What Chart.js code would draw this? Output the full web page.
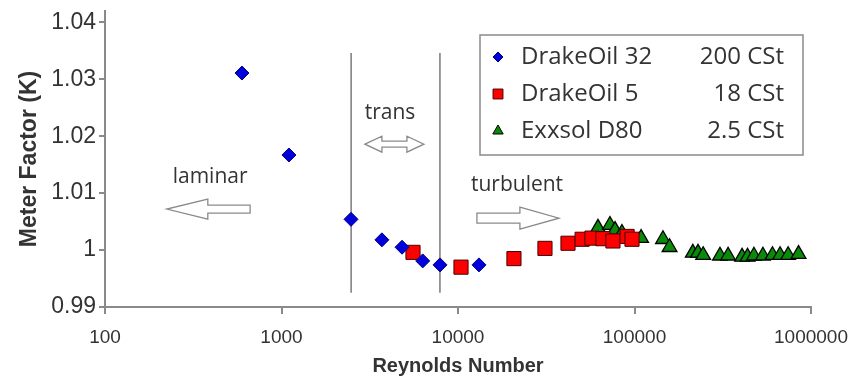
<!DOCTYPE html>
<html>
<head>
<meta charset="utf-8">
<script src="https://cdn.jsdelivr.net/npm/chart.js@4.4.0/dist/chart.umd.min.js"></script>
<style>
  html, body { margin: 0; padding: 0; background: #fff; }
</style>
</head>
<body>
<canvas id="chart" width="855" height="379"></canvas>
<script>
// ─── DATA ────────────────────────────────────────────────
const seriesNames = ['DrakeOil 32', 'DrakeOil 5', 'Exxsol D80'];
const viscosities = ['200 CSt', '18 CSt', '2.5 CSt'];

const reOil32 = [597, 1102, 2477, 3706, 4820, 6310, 7910, 13150];
const kOil32  = [1.0311, 1.0167, 1.0054, 1.0018, 1.0005, 0.9981, 0.9974, 0.9974];

const reOil5 = [5560, 10400, 20750, 31100, 42000, 50500, 57400, 66300, 75500, 90800, 96800];
const kOil5  = [0.9996, 0.9970, 0.9985, 1.0003, 1.0012, 1.0019, 1.0021, 1.0020, 1.0016, 1.0024, 1.0019];

const reD80 = [62100, 72600, 77600, 84900, 109000, 145000, 158000, 214000, 229000, 245000,
               305000, 339000, 407000, 437000, 475000, 534000, 605000, 668000, 742000, 850000];
const kD80  = [1.0039, 1.0044, 1.0035, 1.0030, 1.0021, 1.0019, 1.0005, 0.9995, 0.9995, 0.9991,
               0.9990, 0.9990, 0.9988, 0.9988, 0.9990, 0.9990, 0.9991, 0.9991, 0.9991, 0.9993];

const xTicks = [100, 1000, 10000, 100000, 1000000];
const yTicks = [0.99, 1.00, 1.01, 1.02, 1.03, 1.04];

// laminar / transition / turbulent boundaries
const regimeBounds = [2480, 7900];
const regimeSpan   = [0.9925, 1.0346];
const regimeLabels = ['laminar', 'trans', 'turbulent'];

// ─── STYLES ──────────────────────────────────────────────
const AXIS_GREY = '#8a8a8a';
const TEXT = '#333333';
const ARIAL = "'Liberation Sans', Arial, sans-serif";
const CALIBRI = "'Open Sans', 'Noto Sans', sans-serif";

const markers = [
  { pointStyle: 'rectRot',  radius: 7,   legendRadius: 5, bg: '#0000dd', border: '#00007a', bw: 1 },
  { pointStyle: 'rect',     radius: 10,  legendRadius: 7, bg: '#ff0000', border: '#4a0000', bw: 1 },
  { pointStyle: 'triangle', radius: 8.5, legendRadius: 6, bg: '#0a8a0a', border: '#000000', bw: 1.3 }
];

const toPoints = (xs, ys) => xs.map((x, i) => ({ x, y: ys[i] }));

function scatterSet(i, xs, ys) {
  const m = markers[i];
  return {
    label: seriesNames[i],
    data: toPoints(xs, ys),
    pointStyle: m.pointStyle,
    pointRadius: m.radius,
    pointHoverRadius: m.radius,
    pointBackgroundColor: m.bg,
    pointBorderColor: m.border,
    pointBorderWidth: m.bw,
    showLine: false
  };
}

function boundSet(x) {
  return {
    data: regimeSpan.map(y => ({ x, y })),
    showLine: true,
    borderColor: '#7a7a7a',
    borderWidth: 1.5,
    pointRadius: 0,
    fill: false
  };
}

// ─── ANNOTATIONS (anchored in data space) ────────────────
const arrows = [
  { from: 664,   to: 224,   y: 1.0072, head: 41, shaft: 4, wing: 10 },
  { from: 2970,  to: 6410,  y: 1.0186, head: 17, shaft: 3, wing: 8, double: true },
  { from: 12800, to: 37300, y: 1.0056, head: 39, shaft: 5, wing: 11 }
];
const labelAnchors = [
  { x: 394,   y: 1.0128 },
  { x: 4120,  y: 1.0240 },
  { x: 21600, y: 1.0114 }
];

function arrowPath(ctx, x0, x1, y, a) {
  ctx.beginPath();
  if (a.double) {
    const l = Math.min(x0, x1), r = Math.max(x0, x1);
    ctx.moveTo(l, y);
    ctx.lineTo(l + a.head, y - a.wing);
    ctx.lineTo(l + a.head, y - a.shaft);
    ctx.lineTo(r - a.head, y - a.shaft);
    ctx.lineTo(r - a.head, y - a.wing);
    ctx.lineTo(r, y);
    ctx.lineTo(r - a.head, y + a.wing);
    ctx.lineTo(r - a.head, y + a.shaft);
    ctx.lineTo(l + a.head, y + a.shaft);
    ctx.lineTo(l + a.head, y + a.wing);
  } else {
    const d = Math.sign(x1 - x0);
    const xb = x1 - d * a.head;
    ctx.moveTo(x0, y - a.shaft);
    ctx.lineTo(xb, y - a.shaft);
    ctx.lineTo(xb, y - a.wing);
    ctx.lineTo(x1, y);
    ctx.lineTo(xb, y + a.wing);
    ctx.lineTo(xb, y + a.shaft);
    ctx.lineTo(x0, y + a.shaft);
  }
  ctx.closePath();
  ctx.fillStyle = '#ffffff';
  ctx.fill();
  ctx.strokeStyle = AXIS_GREY;
  ctx.lineWidth = 1.3;
  ctx.stroke();
}

const annotationPlugin = {
  id: 'regimes',
  afterDraw(chart) {
    const { ctx, scales: { x, y } } = chart;
    ctx.save();
    arrows.forEach(a => {
      arrowPath(ctx, x.getPixelForValue(a.from), x.getPixelForValue(a.to), y.getPixelForValue(a.y), a);
    });
    ctx.fillStyle = TEXT;
    ctx.font = `21px ${CALIBRI}`;
    ctx.textAlign = 'center';
    ctx.textBaseline = 'middle';
    regimeLabels.forEach((t, i) => {
      ctx.fillText(t, x.getPixelForValue(labelAnchors[i].x), y.getPixelForValue(labelAnchors[i].y));
    });
    ctx.restore();
  }
};

// ─── LEGEND (two columns, boxed) ─────────────────────────
const legendBox = { left: 480, top: 35, width: 323, height: 120 };

const legendPlugin = {
  id: 'boxLegend',
  afterDraw(chart) {
    const ctx = chart.ctx;
    const b = legendBox;
    ctx.save();
    ctx.fillStyle = '#ffffff';
    ctx.fillRect(b.left, b.top, b.width, b.height);
    ctx.strokeStyle = AXIS_GREY;
    ctx.lineWidth = 1.5;
    ctx.strokeRect(b.left, b.top, b.width, b.height);

    ctx.font = `24px ${CALIBRI}`;
    ctx.textBaseline = 'middle';
    seriesNames.forEach((name, i) => {
      const m = markers[i];
      const cy = b.top + 22 + i * 37;
      ctx.fillStyle = m.bg;
      ctx.strokeStyle = m.border;
      ctx.lineWidth = 1;
      Chart.helpers.drawPoint(ctx, { pointStyle: m.pointStyle, radius: m.legendRadius, rotation: 0, borderWidth: 1 }, b.left + 18, cy);
      ctx.fillStyle = TEXT;
      ctx.textAlign = 'left';
      ctx.fillText(name, b.left + 41, cy);
      ctx.textAlign = 'right';
      ctx.fillText(viscosities[i], b.left + 304, cy);
    });
    ctx.restore();
  }
};

// ─── CHART ───────────────────────────────────────────────
new Chart(document.getElementById('chart'), {
  type: 'scatter',
  data: {
    datasets: [
      scatterSet(0, reOil32, kOil32),
      scatterSet(1, reOil5, kOil5),
      scatterSet(2, reD80, kD80),
      ...regimeBounds.map(boundSet)
    ]
  },
  options: {
    responsive: false,
    animation: false,
    layout: { padding: { top: 10, right: 44, left: 0, bottom: 0 } },
    plugins: {
      legend: { display: false },
      tooltip: { enabled: false }
    },
    scales: {
      x: {
        type: 'logarithmic',
        min: 100,
        max: 1000000,
        afterBuildTicks: s => { s.ticks = xTicks.map(value => ({ value })); },
        afterFit: s => { s.height = 72; s.paddingLeft = 0; s.paddingRight = 0; },
        border: { color: AXIS_GREY, width: 2 },
        grid: { drawOnChartArea: false, drawTicks: true, tickLength: 7, color: AXIS_GREY, lineWidth: 2 },
        ticks: {
          color: TEXT,
          padding: 12,
          maxRotation: 0,
          autoSkip: false,
          font: { family: ARIAL, size: 19 },
          callback: v => String(v)
        },
        title: {
          display: true,
          text: 'Reynolds Number',
          color: TEXT,
          padding: { top: 0, bottom: 1 },
          font: { family: ARIAL, size: 20, weight: 'bold' }
        }
      },
      y: {
        min: 0.99,
        max: 1.042,
        afterBuildTicks: s => { s.ticks = yTicks.map(value => ({ value })); },
        afterFit: s => { s.width = 105; s.paddingTop = 0; s.paddingBottom = 0; },
        border: { color: AXIS_GREY, width: 2 },
        grid: { drawOnChartArea: false, drawTicks: true, tickLength: 6, color: AXIS_GREY, lineWidth: 2 },
        ticks: {
          color: TEXT,
          padding: 3,
          font: { family: ARIAL, size: 23 },
          callback: v => String(+Number(v).toFixed(2))
        },
        title: {
          display: true,
          text: 'Meter Factor (K)',
          color: TEXT,
          padding: { top: 16, bottom: 0 },
          font: { family: ARIAL, size: 23, weight: 'bold' }
        }
      }
    }
  },
  plugins: [annotationPlugin, legendPlugin]
});
</script>
</body>
</html>
